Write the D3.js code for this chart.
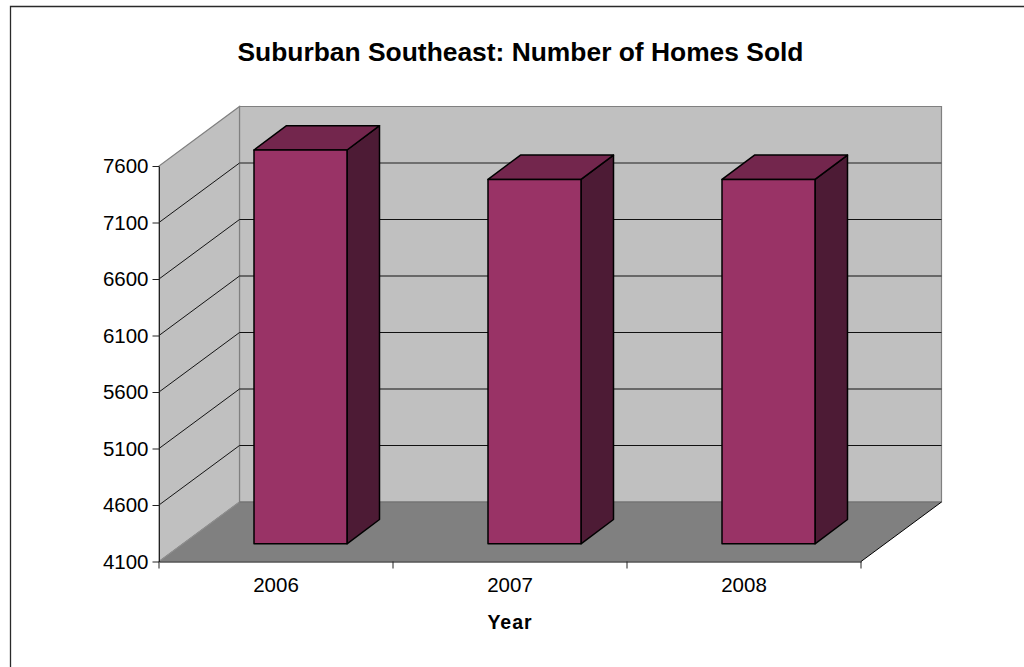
<!DOCTYPE html>
<html><head><meta charset="utf-8">
<script src="https://cdn.jsdelivr.net/npm/d3@7"></script>
<style>html,body{margin:0;background:#fff;overflow:hidden}svg{display:block}text{font-family:"Liberation Sans",Arial,sans-serif;fill:#000}</style>
</head><body><svg id="chart" width="1024" height="667"></svg>
<script>
const years = ["2006", "2007", "2008"];
const homesSold = [7585, 7325, 7325];
const valueTicks = [4100, 4600, 5100, 5600, 6100, 6600, 7100, 7600];
const chartTitle = "Suburban Southeast: Number of Homes Sold";
const xTitle = "Year";

const svg = d3.select("#chart");
const tickFont = 20.5;
// front plane of the 3D box and the oblique offset to its back wall
const x = d3.scaleBand().domain(years).range([159, 861]);
const y = d3.scaleLinear().domain([4100, 7600]).range([561.5, 166]);
const depth = { dx: 80.5, dy: -59.5 };
const barDepth = { dx: 32.5, dy: -24.3 };
const barLift = -17.7;
const barInset = 95;
const barWidth = 93;
const pts = a => a.map(p => p.join(",")).join(" ");

// chart area border: only the top and left edges fall inside the page
svg.append("path").attr("d", "M10.5,667V6.5H1024").attr("fill", "none").attr("stroke", "#2a2a2a").attr("stroke-width", 1.3);

const [yb, yt] = [y(4100), y(7600)];
const [xl, xr] = x.range();
const grey = "#808080";
// back wall
svg.append("polygon").attr("points", pts([[xl+depth.dx,yb+depth.dy],[xr+depth.dx,yb+depth.dy],[xr+depth.dx,yt+depth.dy],[xl+depth.dx,yt+depth.dy]]))
  .attr("fill", "#c0c0c0").attr("stroke", grey).attr("stroke-width", 1.2);
// side wall
svg.append("polygon").attr("points", pts([[xl,yb],[xl+depth.dx,yb+depth.dy],[xl+depth.dx,yt+depth.dy],[xl,yt]]))
  .attr("fill", "#c0c0c0").attr("stroke", grey).attr("stroke-width", 1.2);

// gridlines run up the side wall, then across the back wall
valueTicks.slice(1, -1).forEach(v => {
  const yy = y(v), yBack = yy + depth.dy;
  svg.append("line").attr("x1", xl).attr("y1", yy).attr("x2", xl+depth.dx).attr("y2", yBack)
    .attr("stroke", "#000").attr("stroke-width", 0.9);
  svg.append("line").attr("x1", xl+depth.dx).attr("y1", yBack).attr("x2", xr+depth.dx).attr("y2", yBack)
    .attr("stroke", v === 7100 ? "#555" : "#111").attr("stroke-width", v === 7100 ? 1.4 : 1);
});

// floor
svg.append("polygon").attr("points", pts([[xl,yb],[xr,yb],[xr+depth.dx,yb+depth.dy],[xl+depth.dx,yb+depth.dy]]))
  .attr("fill", "#808080");
svg.append("line").attr("x1", xl).attr("y1", yb).attr("x2", xl+depth.dx).attr("y2", yb+depth.dy).attr("stroke", "#909090").attr("stroke-width", 1);
svg.append("line").attr("x1", xl+depth.dx).attr("y1", yb+depth.dy).attr("x2", xr+depth.dx).attr("y2", yb+depth.dy).attr("stroke", "#6e6e6e").attr("stroke-width", 1.2);
svg.append("line").attr("x1", xr).attr("y1", yb).attr("x2", xr+depth.dx).attr("y2", yb+depth.dy).attr("stroke", "#000").attr("stroke-width", 1);

// bars: side, top and front faces
years.forEach((yr, i) => {
  const L = x(yr) + barInset;
  const R = L + barWidth;
  const T = y(homesSold[i]) + barLift, B = yb + barLift;
  const g = svg.append("g").attr("stroke", "#000").attr("stroke-width", 1.5).attr("stroke-linejoin", "round");
  g.append("polygon").attr("points", pts([[R,T],[R,B],[R+barDepth.dx,B+barDepth.dy],[R+barDepth.dx,T+barDepth.dy]])).attr("fill", "#4d1b35");
  g.append("polygon").attr("points", pts([[L,T],[R,T],[R+barDepth.dx,T+barDepth.dy],[L+barDepth.dx,T+barDepth.dy]])).attr("fill", "#73264d");
  g.append("rect").attr("x", L).attr("y", T).attr("width", barWidth).attr("height", B-T).attr("fill", "#993366");
});

// value axis
const yAxis = d3.axisLeft(y).tickValues(valueTicks).tickSize(6.5).tickSizeOuter(0).tickPadding(4).tickFormat(d3.format("d"));
const gy = svg.append("g").attr("transform", `translate(${xl},0)`).call(yAxis);
gy.selectAll("text").attr("font-size", tickFont).style("font-family", '"Liberation Sans",Arial,sans-serif').attr("dy", "0.32em");
gy.selectAll("line,path").attr("stroke", "#222");

// category axis
const xAxis = d3.axisBottom(x).tickValues(years).tickSize(0).tickSizeOuter(0).tickPadding(14);
const gx = svg.append("g").attr("transform", `translate(0,${yb})`).call(xAxis);
gx.selectAll("text").attr("font-size", tickFont).style("font-family", '"Liberation Sans",Arial,sans-serif').attr("y", 30.5).attr("dy", 0);
gx.select("path").attr("stroke", "#000");
[xl, x("2007"), x("2008"), xr].forEach(t => svg.append("line").attr("x1", t).attr("x2", t).attr("y1", yb).attr("y2", yb+7).attr("stroke", "#222"));

svg.append("text").attr("x", 520.5).attr("y", 61).attr("text-anchor", "middle").attr("font-size", 26.4).attr("font-weight", "bold").text(chartTitle);
svg.append("text").attr("x", 510).attr("y", 629).attr("text-anchor", "middle").attr("font-size", 19.5).attr("font-weight", "bold").attr("letter-spacing", 1).text(xTitle);
</script></body></html>
